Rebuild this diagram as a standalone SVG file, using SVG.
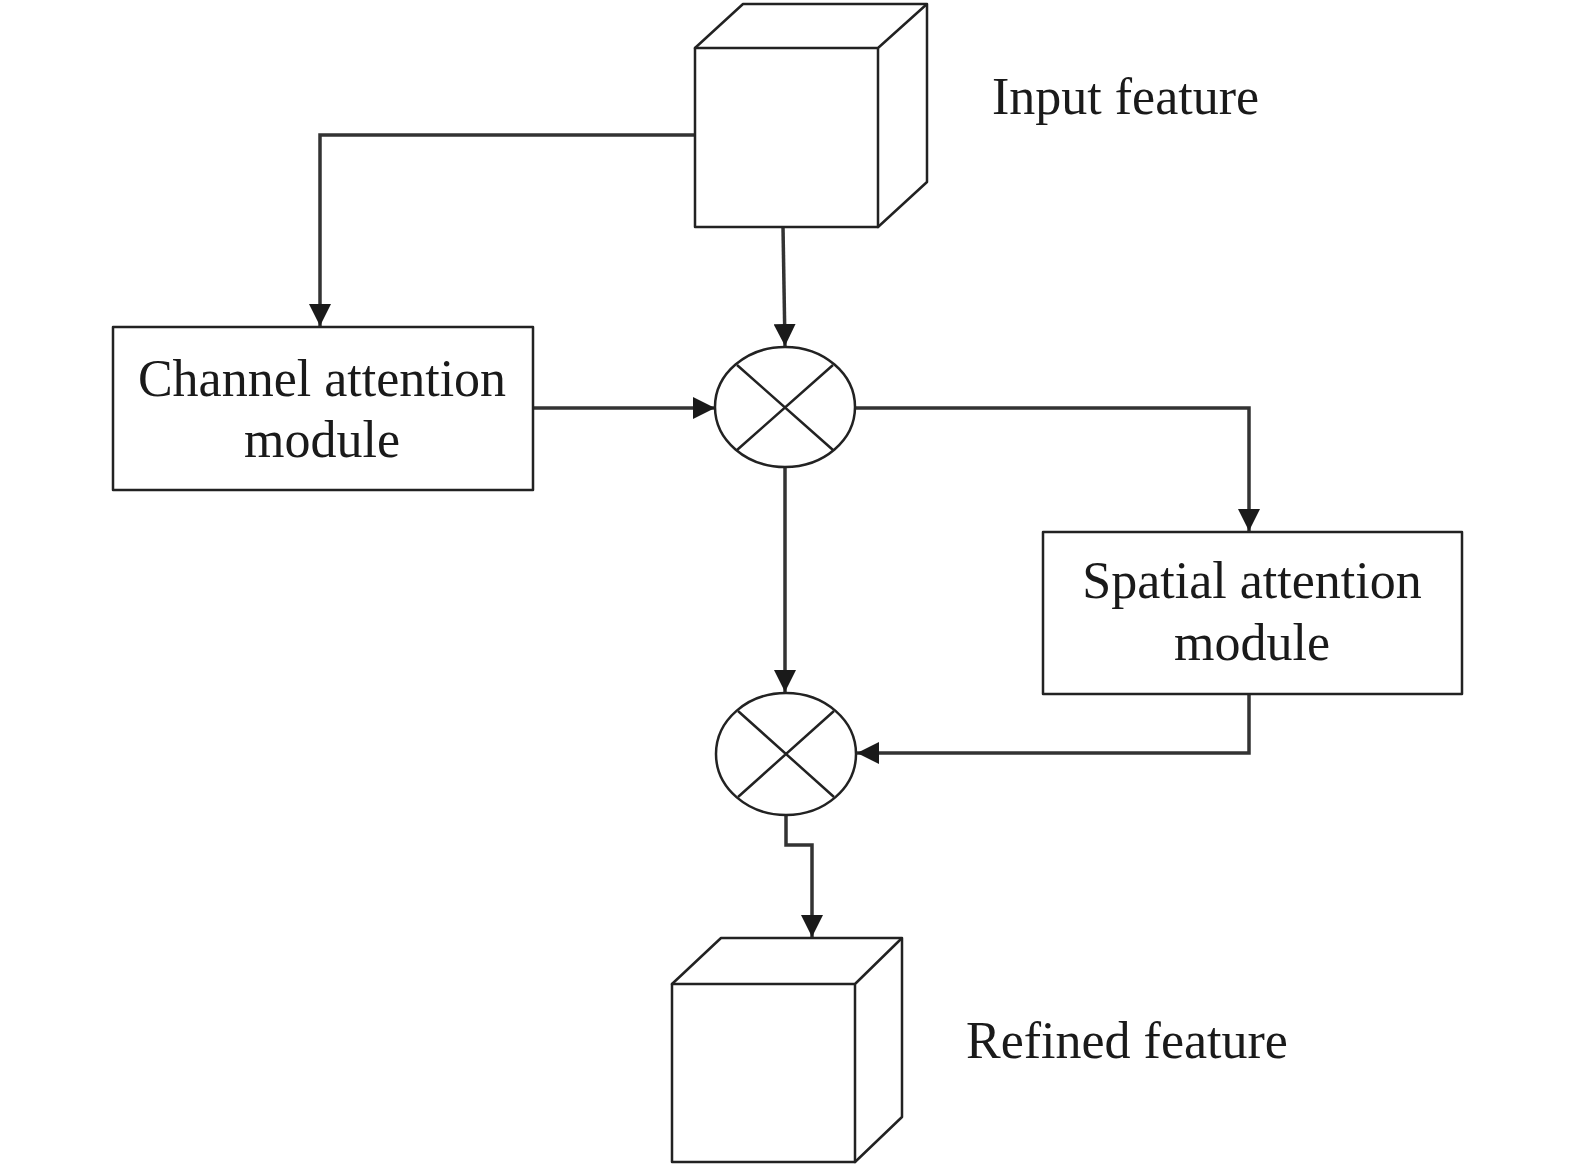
<svg xmlns="http://www.w3.org/2000/svg" width="1575" height="1166" viewBox="0 0 1575 1166">
<style>
.shape{fill:#fff;stroke:#222;stroke-width:2.5;stroke-linejoin:round}
.edge{fill:none;stroke:#333;stroke-width:3.5}
.cross{stroke:#222;stroke-width:2.5}
.lbl{font-family:"Liberation Serif","Times New Roman",serif;font-size:52px;fill:#1a1a1a}
</style>
<defs>
<marker id="arr" markerUnits="userSpaceOnUse" markerWidth="22" markerHeight="22" viewBox="0 0 20 20" refX="20" refY="10" orient="auto">
<path d="M0,0 L20,10 L0,20 z" fill="#1a1a1a"/>
</marker>
</defs>
<rect width="1575" height="1166" fill="#fff"/>
<g id="connectors">
<path class="edge" d="M695,135 H320 V326" marker-end="url(#arr)"/>
<path class="edge" d="M783,227 L785,346" marker-end="url(#arr)"/>
<path class="edge" d="M533,408 H715" marker-end="url(#arr)"/>
<path class="edge" d="M855,408 H1249 V531" marker-end="url(#arr)"/>
<path class="edge" d="M785,468 V692" marker-end="url(#arr)"/>
<path class="edge" d="M1249,694 V753 H857" marker-end="url(#arr)"/>
<path class="edge" d="M786,815 V845 H812 V937" marker-end="url(#arr)"/>
</g>
<g id="input-feature">
<path class="shape" d="M695,48 L743,4 H927 V182 L878,227 Z"/>
<path class="shape" d="M695,48 H878 V227 H695 Z M878,48 L927,4"/>
<text class="lbl" x="992" y="114">Input feature</text>
</g>
<g id="channel-attention">
<rect class="shape" x="113" y="327" width="420" height="163"/>
<text class="lbl" text-anchor="middle" x="322" y="396">Channel attention</text>
<text class="lbl" text-anchor="middle" x="322" y="457">module</text>
</g>
<g id="multiply-1">
<ellipse class="shape" cx="785" cy="407" rx="70" ry="60"/>
<path class="cross" d="M737,365 L833,450 M833,365 L737,450"/>
</g>
<g id="spatial-attention">
<rect class="shape" x="1043" y="532" width="419" height="162"/>
<text class="lbl" text-anchor="middle" x="1252" y="598">Spatial attention</text>
<text class="lbl" text-anchor="middle" x="1252" y="660">module</text>
</g>
<g id="multiply-2">
<ellipse class="shape" cx="786" cy="754" rx="70" ry="61"/>
<path class="cross" d="M738,711 L834,797 M834,711 L738,797"/>
</g>
<g id="refined-feature">
<path class="shape" d="M672,984 L721,938 H902 V1117 L855,1162 Z"/>
<path class="shape" d="M672,984 H855 V1162 H672 Z M855,984 L902,938"/>
<text class="lbl" x="966" y="1058">Refined feature</text>
</g>
</svg>
